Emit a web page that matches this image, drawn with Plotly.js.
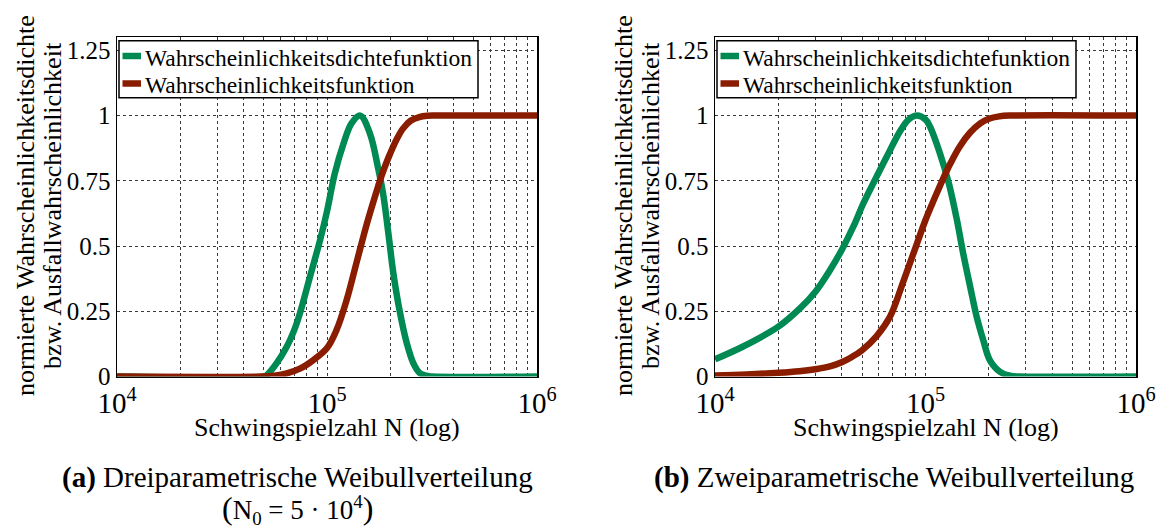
<!DOCTYPE html>
<html>
<head>
<meta charset="utf-8">
<script src="https://cdn.plot.ly/plotly-3.0.1.min.js"></script>
<style>html,body{margin:0;padding:0;background:#fff;}#chart{width:1158px;height:527px;}</style>
</head>
<body>
<div id="chart"></div>
<script>
// ---- data ----
const seriesNames = ['Wahrscheinlichkeitsdichtefunktion', 'Wahrscheinlichkeitsfunktion'];

// (a) three-parameter Weibull (N0 = 5e4)
const aPdfN = [1e4, 5.01e4, 5.16e4, 5.75e4, 6.43e4, 6.92e4, 7.43e4, 8.30e4, 9.27e4, 9.98e4, 1.09e5, 1.20e5, 1.31e5, 1.44e5, 1.60e5, 1.75e5, 1.85e5, 1.96e5, 2.07e5, 2.23e5, 2.40e5, 2.58e5, 2.75e5, 2.95e5, 3.16e5, 1e6];
const aPdfY = [0, 0, 0.005, 0.05, 0.114, 0.17, 0.242, 0.383, 0.523, 0.630, 0.779, 0.894, 0.971, 1.0, 0.932, 0.80, 0.70, 0.549, 0.396, 0.242, 0.127, 0.05, 0.015, 0.003, 0, 0];
const aCdfN = [1e4, 5.01e4, 5.62e4, 6.43e4, 7.43e4, 8.61e4, 9.98e4, 1.11e5, 1.24e5, 1.38e5, 1.55e5, 1.73e5, 1.82e5, 1.92e5, 2.00e5, 2.15e5, 2.30e5, 2.50e5, 2.75e5, 3.00e5, 3.30e5, 1e6];
const aCdfY = [0, 0, 0.003, 0.012, 0.03, 0.063, 0.108, 0.178, 0.293, 0.434, 0.587, 0.715, 0.77, 0.82, 0.855, 0.91, 0.95, 0.98, 0.994, 0.999, 1, 1];

// (b) two-parameter Weibull
const bPdfN = [1e4, 1.36e4, 2.0e4, 2.54e4, 3.0e4, 3.52e4, 4.0e4, 4.54e4, 5.07e4, 5.75e4, 6.55e4, 7.57e4, 8.32e4, 9.12e4, 1.0e5, 1.05e5, 1.17e5, 1.29e5, 1.41e5, 1.51e5, 1.63e5, 1.75e5, 1.88e5, 2.02e5, 2.26e5, 2.52e5, 2.82e5, 1e6];
const bPdfY = [0.066, 0.115, 0.191, 0.262, 0.325, 0.408, 0.485, 0.574, 0.664, 0.753, 0.843, 0.94, 0.985, 1.0, 0.985, 0.958, 0.856, 0.741, 0.6, 0.472, 0.344, 0.229, 0.14, 0.063, 0.018, 0.003, 0, 0];
const bCdfN = [1e4, 1.41e4, 2.0e4, 2.51e4, 3.0e4, 3.55e4, 4.0e4, 4.47e4, 4.98e4, 5.86e4, 6.78e4, 7.85e4, 9.02e4, 1.0e5, 1.1e5, 1.2e5, 1.31e5, 1.45e5, 1.63e5, 1.82e5, 2.0e5, 2.24e5, 2.51e5, 1e6];
const bCdfY = [0.004, 0.008, 0.014, 0.02, 0.028, 0.04, 0.055, 0.075, 0.1, 0.155, 0.229, 0.365, 0.5, 0.6, 0.68, 0.75, 0.815, 0.88, 0.935, 0.97, 0.988, 0.997, 1, 1];

const yTickVals = [0, 0.25, 0.5, 0.75, 1, 1.25];
const yTickText = ['0', '0.25', '0.5', '0.75', '1', '1.25'];
const xTickVals = [1e4, 1e5, 1e6];
const xTickText = ['10<sup>4</sup>', '10<sup>5</sup>', '10<sup>6</sup>'];
const xMinorVals = [2e4, 3e4, 4e4, 5e4, 6e4, 7e4, 8e4, 9e4, 2e5, 3e5, 4e5, 5e5, 6e5, 7e5, 8e5, 9e5];
const xTitle = 'Schwingspielzahl N (log)';
const yTitle1 = 'normierte Wahrscheinlichkeitsdichte';
const yTitle2 = 'bzw. Ausfallwahrscheinlichkeit';
const captionA = '<b>(a)</b> Dreiparametrische Weibullverteilung';
const captionA2 = '<span style="font-size:32px">(</span>N<sub>0</sub> = 5 · 10<sup>4</sup><span style="font-size:32px">)</span>';
const captionB = '<b>(b)</b> Zweiparametrische Weibullverteilung';

// ---- styling ----
const W = 1158, H = 527;
const px = v => v / W, py = v => 1 - v / H;
const GREEN = '#008a53', RED = '#8a1c00';
const COLORS = [GREEN, RED];
const FONT = 'Liberation Serif';
const lineW = 6.5;

function mk(x, y, i, ax) {
  return {x: x, y: y, name: seriesNames[i], type: 'scatter', mode: 'lines',
    line: {color: COLORS[i], width: lineW, shape: 'spline', smoothing: 1},
    xaxis: ax[0], yaxis: ax[1], showlegend: false};
}
const traces = [
  mk(aPdfN, aPdfY, 0, ['x', 'y']),
  mk(aCdfN, aCdfY, 1, ['x', 'y']),
  mk(bPdfN, bPdfY, 0, ['x2', 'y2']),
  mk(bCdfN, bCdfY, 1, ['x2', 'y2'])
];

const GRID = '#3a3a3a';
function xax(d0, d1, anchor) {
  return {type: 'log', domain: [px(d0), px(d1)], range: [4, 6], anchor: anchor,
    tickvals: xTickVals, ticktext: xTickText, ticks: '', showline: true, mirror: true,
    linecolor: '#000', linewidth: 1.5, showgrid: true, gridcolor: GRID, griddash: 'dot', gridwidth: 1,
    minor: {tickvals: xMinorVals, showgrid: true, gridcolor: GRID, griddash: 'dot', gridwidth: 1, ticks: ''},
    tickfont: {family: FONT, size: 29, color: '#000'}, zeroline: false, fixedrange: true};
}
function yax(anchor) {
  return {domain: [py(376.5), py(37.3)], range: [0, 1.3], anchor: anchor,
    tickvals: yTickVals, ticktext: yTickText, ticks: '', showline: true, mirror: true,
    linecolor: '#000', linewidth: 1.5, showgrid: true, gridcolor: GRID, griddash: 'dot', gridwidth: 1,
    tickfont: {family: FONT, size: 25, color: '#000'}, zeroline: false, fixedrange: true};
}
function ann(text, x, y, opts) {
  return Object.assign({text: text, x: px(x), y: py(y), xref: 'paper', yref: 'paper',
    xanchor: 'center', yanchor: 'middle',
    showarrow: false, font: {family: FONT, size: 26, color: '#000'}}, opts || {});
}

// legend boxes (drawn as shapes + text so the compact box of the reference is kept)
const legendLeft = [119, 717];
const legendW = 359, legendTop = 40.7, legendBottom = 97.7;
const legendRowY = [56, 83.5];
const shapes = [], legendAnns = [];
legendLeft.forEach(L => {
  shapes.push({type: 'rect', xref: 'paper', yref: 'paper', x0: px(L), x1: px(L + legendW),
    y0: py(legendBottom), y1: py(legendTop), line: {color: '#000', width: 1.5}, fillcolor: '#fff', layer: 'above'});
  seriesNames.forEach((nm, i) => {
    shapes.push({type: 'line', xref: 'paper', yref: 'paper', x0: px(L + 3.5), x1: px(L + 22),
      y0: py(legendRowY[i]), y1: py(legendRowY[i]), line: {color: COLORS[i], width: 6.5}, layer: 'above'});
    legendAnns.push(ann(nm, L + 24, legendRowY[i] + 1.5, {xanchor: 'left', font: {family: FONT, size: 23.5, color: '#000'}}));
  });
});

const layout = {
  width: W, height: H, margin: {l: 0, r: 0, t: 0, b: 0},
  font: {family: FONT, color: '#000'},
  paper_bgcolor: '#fff', plot_bgcolor: '#fff', showlegend: false,
  xaxis: xax(117, 537, 'y'), yaxis: yax('x'),
  xaxis2: xax(715, 1136, 'y2'), yaxis2: yax('x2'),
  shapes: shapes,
  annotations: legendAnns.concat([
    ann(xTitle, 327, 427), ann(xTitle, 925.5, 427),
    ann(yTitle1, 25, 206, {textangle: -90}), ann(yTitle2, 52, 206, {textangle: -90}),
    ann(yTitle1, 623, 206, {textangle: -90}), ann(yTitle2, 650, 206, {textangle: -90}),
    ann(captionA, 297, 477, {font: {family: FONT, size: 29, color: '#000'}}),
    ann(captionA2, 297, 509, {font: {family: FONT, size: 27, color: '#000'}}),
    ann(captionB, 1136, 477, {xanchor: 'right', font: {family: FONT, size: 29, color: '#000'}})
  ])
};
Plotly.newPlot('chart', traces, layout, {staticPlot: true, displayModeBar: false});
</script>
</body>
</html>
